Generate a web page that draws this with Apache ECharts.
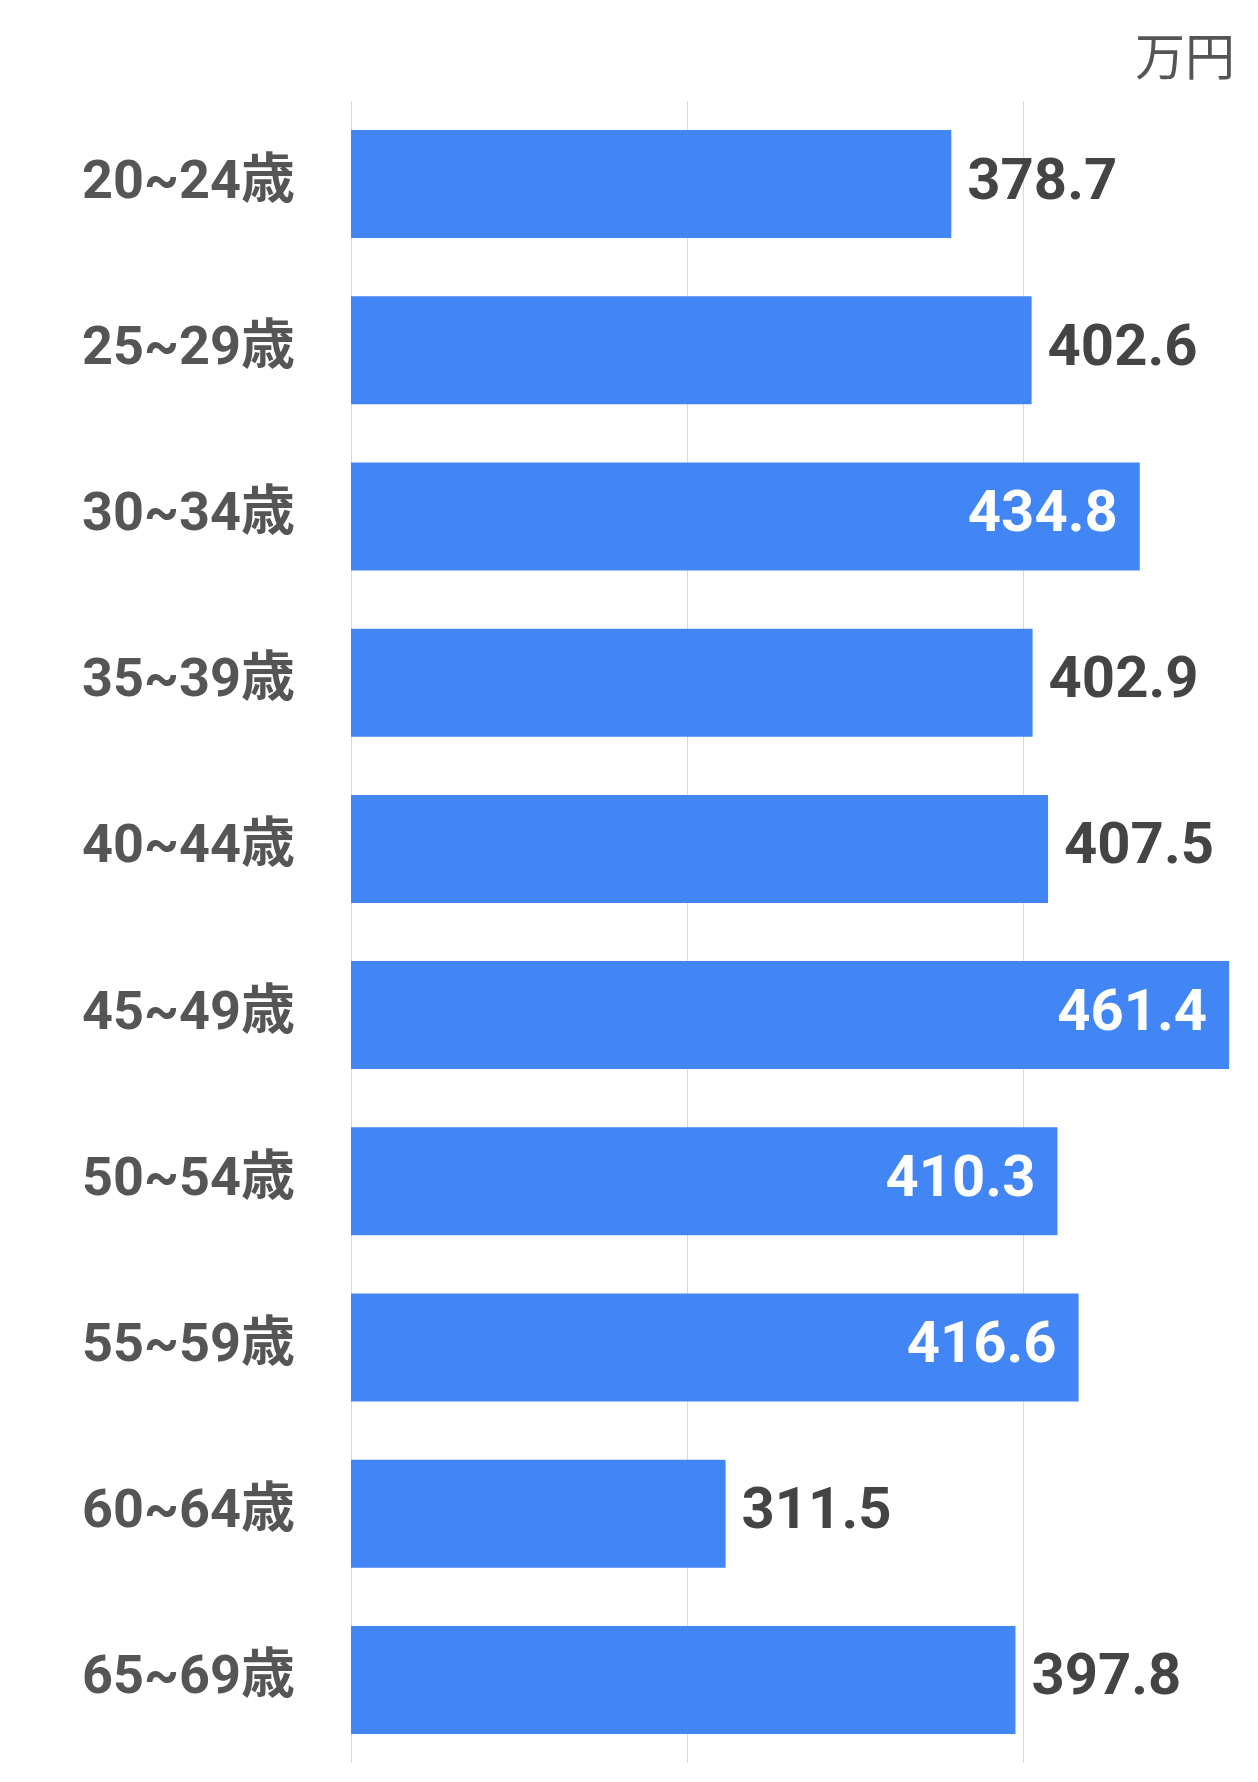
<!DOCTYPE html>
<html><head><meta charset="utf-8">
<script src="https://cdn.jsdelivr.net/npm/echarts@6/dist/echarts.min.js"></script>
<style>html,body{margin:0;padding:0;background:#fff}#c{width:1258px;height:1782px}</style>
</head><body><div id="c"></div>
<script>
const categories = ["20~24歳","25~29歳","30~34歳","35~39歳","40~44歳","45~49歳","50~54歳","55~59歳","60~64歳","65~69歳"];
const values = [378.7, 402.6, 434.8, 402.9, 407.5, 461.4, 410.3, 416.6, 311.5, 397.8];
const insideIdx = [2, 5, 6, 7];

const chart = echarts.init(document.getElementById("c"));
chart.setOption({
  animation: false,
  textStyle: { fontFamily: "Roboto, 'Noto Sans CJK JP', sans-serif" },
  title: { text: "万円", right: 18, top: 26,
    textStyle: { fontSize: 50, fontWeight: "normal", color: "#555", fontFamily: "'Noto Sans CJK JP'" } },
  grid: { left: 351, right: 0, top: 101, bottom: 19 },
  xAxis: { type: "value", min: 200, max: 470, interval: 100,
    axisLabel: { show: false }, axisLine: { show: false }, axisTick: { show: false },
    splitLine: { lineStyle: { color: "#d9d9d9", width: 1 } } },
  yAxis: { type: "category", inverse: true, data: categories,
    axisLine: { show: false }, axisTick: { show: false },
    axisLabel: { margin: 56, fontSize: 54, fontWeight: "bold", color: "#555",
      fontFamily: "Roboto, 'Noto Sans CJK JP'" } },
  series: [{
    type: "bar", barCategoryGap: "35%",
    itemStyle: { color: "#4285f4" },
    data: values.map((v, i) => insideIdx.includes(i)
      ? { value: v, label: { position: "insideRight", color: "#fff", distance: 22 } }
      : { value: v }),
    label: { show: true, position: "right", distance: 16, fontSize: 58, fontWeight: "bold",
      color: "#444", fontFamily: "Roboto", formatter: p => p.value.toFixed(1) }
  }]
});
</script></body></html>
